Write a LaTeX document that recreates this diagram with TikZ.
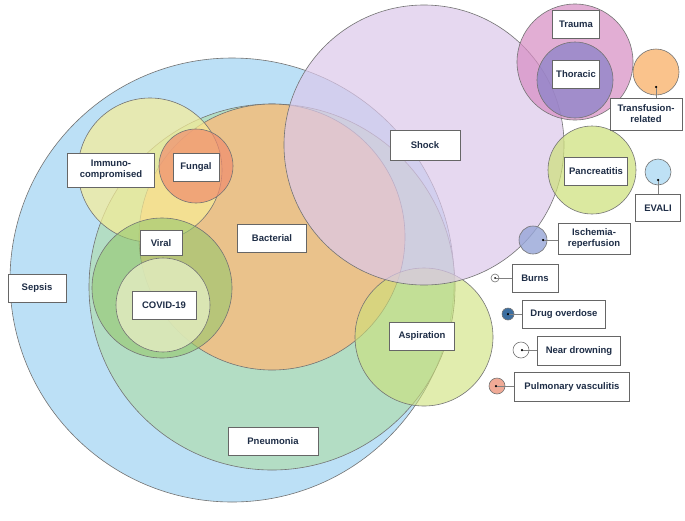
\documentclass[tikz,border=0pt]{standalone}
\usepackage{fontspec}
\setmainfont{Liberation Sans}
\begin{document}
\begin{tikzpicture}[x=1pt,y=-1pt,
  lab/.style={draw=black!60,fill=white,line width=0.5pt,font=\bfseries\fontsize{9.5}{11}\selectfont,text=labtext,inner sep=0pt,align=center},
  circ/.style={draw=black!55,line width=0.6pt},
  dot/.style={circle,fill=black,inner sep=0pt,minimum size=2.5pt},
  lead/.style={draw=black!50,line width=0.5pt}]
\definecolor{labtext}{RGB}{30,45,70}
\useasboundingbox (0,0) rectangle (685,520);
\fill[white] (0,0) rectangle (685,520);
% big circles
\draw[circ,fill={rgb,255:red,188;green,224;blue,246}] (232,280) circle (222);
\draw[circ,fill={rgb,255:red,176;green,220;blue,176},fill opacity=0.7] (272,287) circle (183);
\draw[circ,fill={rgb,255:red,244;green,190;blue,130},fill opacity=0.85] (272,237) circle (133);
\draw[circ,fill={rgb,255:red,248;green,238;blue,150},fill opacity=0.7] (150,170) circle (72);
\draw[circ,fill={rgb,255:red,240;green,140;blue,110},fill opacity=0.7] (196,166) circle (37);
\draw[circ,fill={rgb,255:red,150;green,200;blue,110},fill opacity=0.6] (162,288) circle (70);
\draw[circ,fill={rgb,255:red,225;green,235;blue,190},fill opacity=0.85] (163,305) circle (47);
\draw[circ,fill={rgb,255:red,205;green,225;blue,120},fill opacity=0.6] (424,337) circle (69);
\draw[circ,fill={rgb,255:red,220;green,200;blue,235},fill opacity=0.7] (424,145) circle (140);
\draw[circ,fill={rgb,255:red,215;green,140;blue,195},fill opacity=0.7] (575,62) circle (58);
\draw[circ,fill={rgb,255:red,140;green,130;blue,200},fill opacity=0.75] (575,80) circle (38);
\draw[circ,fill={rgb,255:red,250;green,195;blue,140}] (656,72) circle (23);
\draw[circ,fill={rgb,255:red,205;green,225;blue,120},fill opacity=0.7] (592,170) circle (44);
\draw[circ,fill={rgb,255:red,190;green,225;blue,245}] (658,172) circle (13);
\draw[circ,fill={rgb,255:red,150;green,165;blue,215},fill opacity=0.8] (533,240) circle (14);
\draw[circ,fill=white] (495,278) circle (4);
\draw[circ,fill={rgb,255:red,60;green,110;blue,160}] (508,314) circle (6);
\draw[circ,fill=white] (521,350) circle (8);
\draw[circ,fill={rgb,255:red,240;green,170;blue,150}] (497,386) circle (8);
% labels
\node[lab,minimum width=58pt,minimum height=28pt] (sepsis) at (37,288) {Sepsis};
\node[lab,minimum width=87pt,minimum height=34pt] (immuno) at (111,170) {Immuno-\\compromised};
\node[lab,minimum width=46pt,minimum height=28pt] (fungal) at (196,167) {Fungal};
\node[lab,minimum width=42pt,minimum height=25pt] (viral) at (161,243) {Viral};
\node[lab,minimum width=64pt,minimum height=28pt] (covid) at (164,305) {COVID-19};
\node[lab,minimum width=69pt,minimum height=28pt] (bact) at (272,238) {Bacterial};
\node[lab,minimum width=70pt,minimum height=30pt] (shock) at (425,145) {Shock};
\node[lab,minimum width=65pt,minimum height=28pt] (asp) at (422,336) {Aspiration};
\node[lab,minimum width=90pt,minimum height=28pt] (pneu) at (273,441) {Pneumonia};
\node[lab,minimum width=47pt,minimum height=28pt] (trauma) at (576,24) {Trauma};
\node[lab,minimum width=47pt,minimum height=28pt] (thor) at (576,74) {Thoracic};
\node[lab,minimum width=72pt,minimum height=32pt] (transf) at (646,114) {Transfusion-\\related};
\node[lab,minimum width=63pt,minimum height=28pt] (panc) at (596,171) {Pancreatitis};
\node[lab,minimum width=45pt,minimum height=27pt] (evali) at (658,208) {EVALI};
\node[lab,minimum width=72pt,minimum height=31pt] (isch) at (594,239) {Ischemia-\\reperfusion};
\node[lab,minimum width=46pt,minimum height=28pt] (burns) at (535,278) {Burns};
\node[lab,minimum width=83pt,minimum height=28pt] (drug) at (564,314) {Drug overdose};
\node[lab,minimum width=83pt,minimum height=29pt] (drown) at (579,351) {Near drowning};
\node[lab,minimum width=115pt,minimum height=29pt] (vasc) at (572,387) {Pulmonary vasculitis};
% dots and leaders
\node[dot] (d1) at (656,87) {}; \draw[lead] (d1) -- (transf.north -| d1);
\node[dot] (d2) at (658,180) {}; \draw[lead] (d2) -- (evali.north);
\node[dot] (d3) at (543,240) {}; \draw[lead] (d3) -- (isch.west |- d3);
\node[dot,minimum size=2pt] (d4) at (495,278) {}; \draw[lead] (d4) -- (burns.west);
\node[dot] (d5) at (508,314) {}; \draw[lead] (d5) -- (drug.west);
\node[dot] (d6) at (522,350) {}; \draw[lead] (d6) -- (drown.west |- d6);
\node[dot] (d7) at (496,386) {}; \draw[lead] (d7) -- (vasc.west |- d7);
\end{tikzpicture}
\end{document}
